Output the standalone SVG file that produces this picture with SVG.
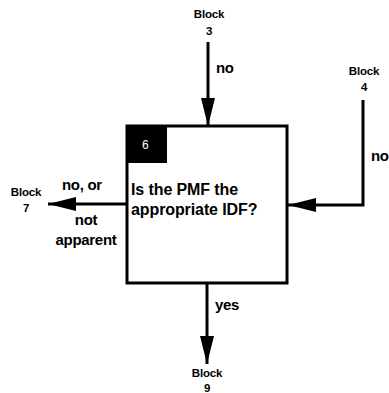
<svg xmlns="http://www.w3.org/2000/svg" width="389" height="393" viewBox="0 0 389 393">
<defs>
<style>
text{font-family:"Liberation Sans",Arial,sans-serif;font-weight:bold;fill:#000}
.blk{font-size:11.5px;text-anchor:middle;letter-spacing:-0.2px}
.lbl{font-size:15px;letter-spacing:-0.3px}
.q{font-size:16px;letter-spacing:-0.1px}
.ln{stroke:#000;stroke-width:3;fill:none}
</style>
<marker id="ah" viewBox="0 0 28 14" refX="28" refY="7" markerWidth="28" markerHeight="14" markerUnits="userSpaceOnUse" orient="auto">
<path d="M0,0 L28,7 L0,14 Z" fill="#000"/>
</marker>
</defs>
<rect width="389" height="393" fill="#fff"/>
<g id="connectors">
<line class="ln" x1="208" y1="42" x2="208" y2="126" marker-end="url(#ah)"/>
<polyline class="ln" points="363,100 363,205 288,205" marker-end="url(#ah)"/>
<line class="ln" x1="127" y1="204" x2="48" y2="204" marker-end="url(#ah)"/>
<line class="ln" x1="207" y1="283" x2="207" y2="364" marker-end="url(#ah)"/>
<text class="lbl" x="216" y="73">no</text>
<text class="lbl" x="371" y="161">no</text>
<text class="lbl" x="62" y="190">no, or</text>
<text class="lbl" x="86" y="225" text-anchor="middle">not</text>
<text class="lbl" x="86" y="245" text-anchor="middle">apparent</text>
<text class="lbl" x="215" y="310">yes</text>
</g>
<g id="block3"><text class="blk" x="209" y="18">Block</text><text class="blk" x="209" y="35">3</text></g>
<g id="block4"><text class="blk" x="364" y="75">Block</text><text class="blk" x="364" y="91">4</text></g>
<g id="block7"><text class="blk" x="26" y="196">Block</text><text class="blk" x="26" y="212">7</text></g>
<g id="block9"><text class="blk" x="207" y="377">Block</text><text class="blk" x="207" y="392">9</text></g>
<g id="node6">
<rect class="ln" x="127" y="126" width="160" height="157"/>
<rect x="126" y="125" width="41" height="38" fill="#000"/>
<text x="142" y="149" style="font-size:12px;font-weight:normal;fill:#fff">6</text>
<text class="q" x="131" y="195">Is the PMF the</text>
<text class="q" x="131" y="215">appropriate IDF?</text>
</g>
</svg>
